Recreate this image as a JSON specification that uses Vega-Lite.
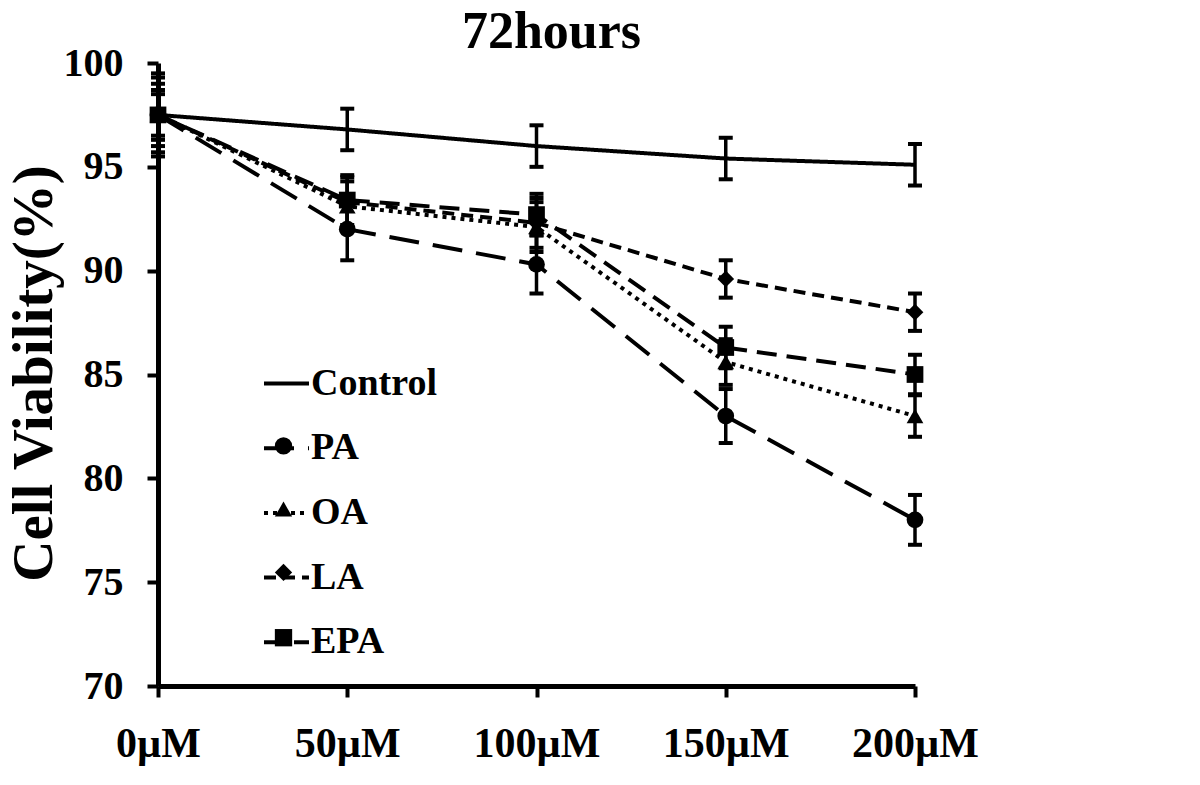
{
  "$schema": "https://vega.github.io/schema/vega-lite/v6.json",
  "width": 757,
  "height": 623,
  "autosize": {"type": "none"},
  "padding": {"left": 158, "top": 63, "right": 285, "bottom": 99},
  "background": "white",
  "config": {"view": {"stroke": null}, "font": "Liberation Serif"},
  "title": {"text": "72hours", "font": "Liberation Serif", "fontSize": 52, "fontWeight": "bold", "color": "black", "anchor": "middle", "offset": -16, "dx": 15},
  "data": {"values": [
    {"conc": 0, "series": "Control", "marker": "Control", "mean": 97.5, "sd": 1.0},
    {"conc": 50, "series": "Control", "marker": "Control", "mean": 96.8, "sd": 1.0},
    {"conc": 100, "series": "Control", "marker": "Control", "mean": 96.0, "sd": 1.0},
    {"conc": 150, "series": "Control", "marker": "Control", "mean": 95.4, "sd": 1.0},
    {"conc": 200, "series": "Control", "marker": "Control", "mean": 95.1, "sd": 1.0},
    {"conc": 0, "series": "PA", "marker": "PA", "mean": 97.5, "sd": 2.0},
    {"conc": 50, "series": "PA", "marker": "PA", "mean": 92.0, "sd": 1.5},
    {"conc": 100, "series": "PA", "marker": "PA", "mean": 90.3, "sd": 1.4},
    {"conc": 150, "series": "PA", "marker": "PA", "mean": 83.0, "sd": 1.3},
    {"conc": 200, "series": "PA", "marker": "PA", "mean": 78.0, "sd": 1.2},
    {"conc": 0, "series": "OA", "marker": "OA", "mean": 97.5, "sd": 1.8},
    {"conc": 50, "series": "OA", "marker": "OA", "mean": 93.1, "sd": 1.2},
    {"conc": 100, "series": "OA", "marker": "OA", "mean": 92.1, "sd": 1.2},
    {"conc": 150, "series": "OA", "marker": "OA", "mean": 85.6, "sd": 1.1},
    {"conc": 200, "series": "OA", "marker": "OA", "mean": 83.0, "sd": 1.0},
    {"conc": 0, "series": "LA", "marker": "LA", "mean": 97.5, "sd": 1.5},
    {"conc": 50, "series": "LA", "marker": "LA", "mean": 93.3, "sd": 1.2},
    {"conc": 100, "series": "LA", "marker": "LA", "mean": 92.3, "sd": 1.2},
    {"conc": 150, "series": "LA", "marker": "LA", "mean": 89.6, "sd": 0.9},
    {"conc": 200, "series": "LA", "marker": "LA", "mean": 88.0, "sd": 0.9},
    {"conc": 0, "series": "EPA", "marker": "EPA", "mean": 97.5, "sd": 1.2},
    {"conc": 50, "series": "EPA", "marker": "EPA", "mean": 93.4, "sd": 1.2},
    {"conc": 100, "series": "EPA", "marker": "EPA", "mean": 92.7, "sd": 1.0},
    {"conc": 150, "series": "EPA", "marker": "EPA", "mean": 86.3, "sd": 1.0},
    {"conc": 200, "series": "EPA", "marker": "EPA", "mean": 85.0, "sd": 0.95}
  ]},
  "encoding": {
    "x": {"field": "conc", "type": "quantitative",
      "scale": {"domain": [0, 200], "nice": false},
      "axis": {"values": [0, 50, 100, 150, 200], "labelExpr": "datum.value + 'µM'", "title": null, "grid": false,
        "tickSize": 11, "tickWidth": 4, "tickColor": "black", "domainWidth": 5, "domainColor": "black",
        "labelFont": "Liberation Serif", "labelFontSize": 42, "labelFontWeight": "bold", "labelColor": "black",
        "labelPadding": 26, "labelFlush": false, "labelOverlap": false, "labelBound": false}},
    "y": {"field": "mean", "type": "quantitative",
      "scale": {"domain": [70, 100], "nice": false, "zero": false},
      "axis": {"values": [70, 75, 80, 85, 90, 95, 100], "title": "Cell Viability(%)", "grid": false,
        "tickSize": 11, "tickWidth": 4, "tickColor": "black", "domainWidth": 5, "domainColor": "black",
        "labelFont": "Liberation Serif", "labelFontSize": 40, "labelFontWeight": "bold", "labelColor": "black",
        "labelPadding": 24, "labelOverlap": false, "labelBound": false,
        "titleFont": "Liberation Serif", "titleFontSize": 57, "titleFontWeight": "bold", "titleColor": "black",
        "titleX": -124, "titleY": 310, "titleAngle": 270, "titleAlign": "center", "titleBaseline": "middle"}}
  },
  "layer": [
    {
      "mark": {"type": "errorbar", "color": "black", "opacity": 1, "thickness": 3.5, "ticks": {"size": 14, "thickness": 4, "color": "black", "opacity": 1}},
      "encoding": {"yError": {"field": "sd"}}
    },
    {
      "mark": {"type": "line", "color": "black", "strokeWidth": 4},
      "encoding": {
        "strokeDash": {"field": "series", "type": "nominal",
          "scale": {"domain": ["Control", "PA", "OA", "LA", "EPA"], "range": [[1, 0], [30, 14], [4, 5], [12, 7], [20, 10]]},
          "legend": {"orient": "none", "legendX": 104, "legendY": 296, "title": null, "padding": 0,
            "symbolType": "stroke", "symbolSize": 2025, "symbolStrokeWidth": 4, "symbolStrokeColor": "black",
            "labelFont": "Liberation Serif", "labelFontSize": 38, "labelFontWeight": "bold", "labelColor": "black",
            "labelOffset": 0, "rowPadding": 20.7}}
      }
    },
    {
      "mark": {"type": "point", "filled": true, "color": "black", "opacity": 1, "size": 280},
      "encoding": {
        "shape": {"field": "marker", "type": "nominal", "sort": null,
          "scale": {"range": ["M0,0", "circle", "triangle-up", "diamond", "square"]},
          "legend": {"orient": "none", "legendX": 116, "legendY": 315, "title": null, "padding": 0,
            "symbolSize": 300, "symbolFillColor": "black", "symbolStrokeColor": "black", "symbolOpacity": 1,
            "labelExpr": "''", "labelOffset": 0, "rowPadding": 40.3}}
      }
    }
  ]
}
